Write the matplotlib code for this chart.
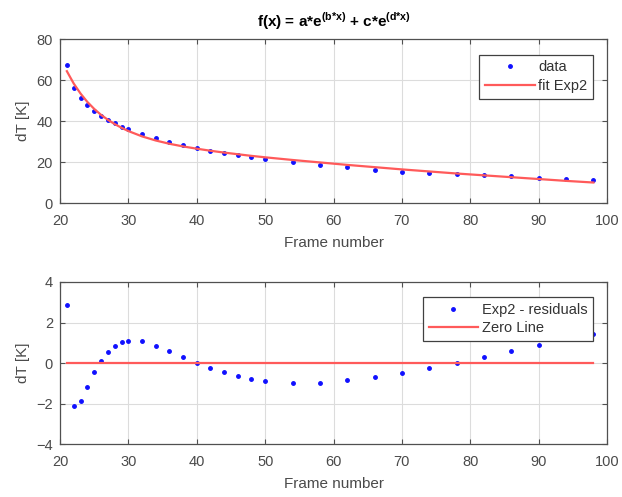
import matplotlib
matplotlib.use('Agg')
import matplotlib.pyplot as plt

plt.rcParams['font.family'] = ['Liberation Sans', 'DejaVu Sans']
plt.rcParams['mathtext.fontset'] = 'custom'
plt.rcParams['mathtext.rm'] = 'Liberation Sans'
plt.rcParams['mathtext.bf'] = 'Liberation Sans:bold'

# frame numbers
frames = [21, 22, 23, 24, 25, 26, 27, 28, 29, 30, 32, 34, 36, 38, 40, 42, 44, 46,
          48, 50, 54, 58, 62, 66, 70, 74, 78, 82, 86, 90, 94, 98]
# measured dT [K]
dT = [67.4, 56.0, 51.3, 47.7, 45.0, 42.5, 40.7, 39.0, 37.3, 36.0, 33.6, 31.5, 29.9,
      28.2, 26.8, 25.5, 24.4, 23.2, 22.4, 21.4, 20.0, 18.5, 17.4, 16.2, 15.3, 14.6,
      14.0, 13.5, 13.0, 12.3, 11.7, 11.2]
# fitted Exp2 curve
fit = [64.3, 58.3, 53.4, 49.3, 45.9, 43.0, 40.6, 38.5, 36.7, 35.1, 32.5, 30.5, 28.9,
       27.6, 26.5, 25.5, 24.6, 23.8, 23.0, 22.3, 21.0, 19.8, 18.6, 17.5, 16.4, 15.4,
       14.4, 13.5, 12.6, 11.7, 10.8, 10.0]
# residuals
resid = [2.88, -2.12, -1.87, -1.16, -0.45, 0.11, 0.55, 0.83, 1.03, 1.11, 1.10, 0.85,
         0.60, 0.29, 0.02, -0.27, -0.45, -0.64, -0.77, -0.88, -0.98, -0.97, -0.85,
         -0.70, -0.49, -0.24, 0.02, 0.29, 0.60, 0.90, 1.2, 1.44]
zero = [0.0] * len(frames)

txt = '#4a4a4a'
red = '#ff5a5a'
blue = '#1010ff'

fig = plt.figure(figsize=(6.22, 4.97), dpi=100)
ax1 = fig.add_axes([0.0965, 0.5915, 0.8795, 0.33])
ax2 = fig.add_axes([0.0965, 0.1066, 0.8795, 0.326])

def style(ax):
    ax.set_xlim(20, 100)
    ax.grid(True, color='#dcdcdc', linewidth=0.8)
    ax.set_axisbelow(True)
    for s in ax.spines.values():
        s.set_color('#505050')
        s.set_linewidth(0.9)
    ax.tick_params(direction='in', top=True, right=True, length=3.5,
                   colors='#505050', labelcolor=txt, labelsize=10.5)
    ax.tick_params(axis='x', pad=8)
    ax.tick_params(axis='y', pad=5)
    ax.set_xlabel('Frame number', fontsize=11, color=txt, labelpad=6)
    ax.set_ylabel('dT [K]', fontsize=11, color=txt, labelpad=5)

def legend(ax, y):
    lg = ax.legend(loc='upper right', bbox_to_anchor=(0.975, y), fancybox=False,
                   edgecolor='#404040', framealpha=1, fontsize=10.5,
                   handlelength=3.4, handletextpad=0.25, borderpad=0.4,
                   labelspacing=0.3, borderaxespad=0)
    lg.get_frame().set_linewidth(0.9)
    for t in lg.get_texts():
        t.set_color('#333333')

ax1.plot(frames, dT, '.', color=blue, markersize=5, label='data')
ax1.plot(frames, fit, '-', color=red, linewidth=1.6, label='fit Exp2')
ax1.set_ylim(0, 80)
ax1.set_yticks([0, 20, 40, 60, 80])
style(ax1)
ax1.set_title(r'f(x) = a*e$^{\mathbf{(b{*}x)}}$ + c*e$^{\mathbf{(d{*}x)}}$',
              fontsize=11, fontweight='bold', color='black', pad=9)
legend(ax1, 0.905)

ax2.plot(frames, resid, '.', color=blue, markersize=5, label='Exp2 - residuals')
ax2.plot(frames, zero, '-', color=red, linewidth=1.6, label='Zero Line')
ax2.set_ylim(-4, 4)
ax2.set_yticks([-4, -2, 0, 2, 4])
style(ax2)
legend(ax2, 0.907)

fig.savefig('out.png', dpi=100)
